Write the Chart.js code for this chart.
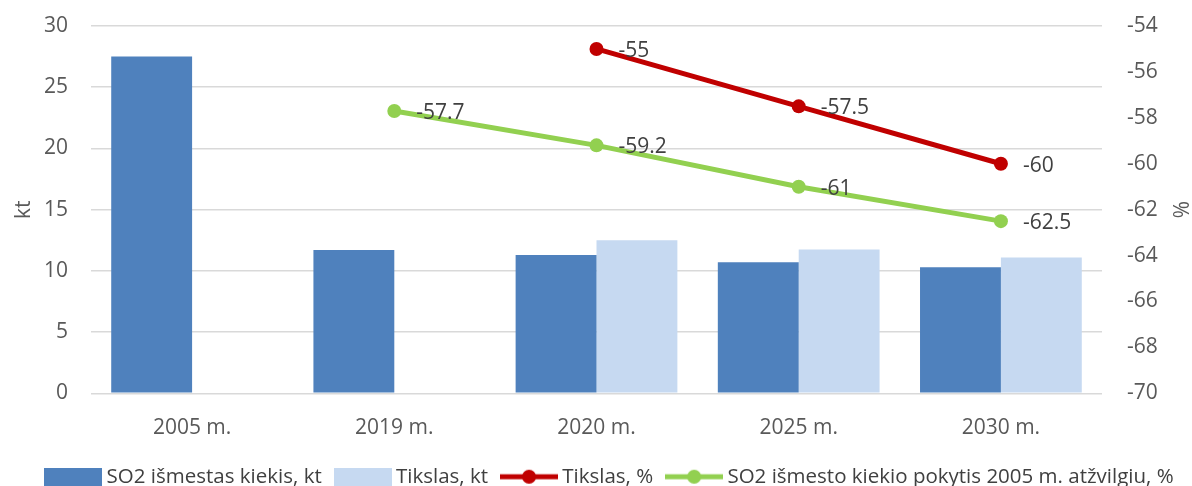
<!DOCTYPE html>
<html>
<head>
<meta charset="utf-8">
<script src="https://cdn.jsdelivr.net/npm/chart.js@4/dist/chart.umd.min.js"></script>
<style>
  html, body { margin: 0; padding: 0; background: #ffffff; }
  #wrap { width: 1192px; height: 486px; position: relative; }
</style>
</head>
<body>
<div id="wrap"><canvas id="c" width="1192" height="486"></canvas></div>
<script>
const categories = ['2005 m.', '2019 m.', '2020 m.', '2025 m.', '2030 m.'];
const emittedKt = [27.5, 11.7, 11.3, 10.7, 10.3];
const targetKt = [null, null, 12.5, 11.75, 11.1];
const targetPct = [null, null, -55, -57.5, -60];
const changePct = [null, -57.7, -59.2, -61, -62.5];
const seriesNames = ['SO2 išmestas kiekis, kt', 'Tikslas, kt', 'Tikslas, %', 'SO2 išmesto kiekio pokytis 2005 m. atžvilgiu, %'];
const leftTicks = { min: 0, max: 30, step: 5 };
const rightTicks = { min: -70, max: -54, step: 2 };

const DARK = '#4F81BD', LIGHT = '#C6D9F1', RED = '#C00000', GREEN = '#92D050';
const FONT = '"Open Sans", "Noto Sans", sans-serif';
const FS = 21;

function boxImg(color) {
  const c = document.createElement('canvas');
  c.width = 58; c.height = 18;
  const g = c.getContext('2d');
  g.fillStyle = color; g.fillRect(0, 0, 58, 18);
  return c;
}
function lineImg(color) {
  const c = document.createElement('canvas');
  c.width = 58; c.height = 18;
  const g = c.getContext('2d');
  g.strokeStyle = color; g.lineWidth = 5;
  g.beginPath(); g.moveTo(0, 9); g.lineTo(58, 9); g.stroke();
  g.fillStyle = color; g.beginPath(); g.arc(29, 9, 7, 0, Math.PI * 2); g.fill();
  return c;
}
const legendImgs = [boxImg(DARK), boxImg(LIGHT), lineImg(RED), lineImg(GREEN)];

const dataLabels = {
  id: 'dataLabels',
  afterDatasetsDraw(chart) {
    const ctx = chart.ctx;
    ctx.save();
    ctx.font = FS + 'px ' + FONT;
    ctx.fillStyle = '#404040';
    ctx.textAlign = 'left';
    ctx.textBaseline = 'middle';
    [2, 3].forEach(di => {
      const meta = chart.getDatasetMeta(di);
      const vals = chart.data.datasets[di].data;
      meta.data.forEach((pt, i) => {
        if (vals[i] === null || vals[i] === undefined) return;
        ctx.fillText(String(vals[i]), pt.x + 22, pt.y + 2);
      });
    });
    ctx.restore();
  }
};

const legendShift = {
  id: 'legendShift',
  afterLayout(chart) {
    const lg = chart.legend;
    if (lg) { lg.left += 16; lg.right += 16; lg.top += 11; lg.bottom += 11; }
  }
};

new Chart(document.getElementById('c'), {
  data: {
    labels: categories,
    datasets: [
      { type: 'bar', label: seriesNames[0], data: emittedKt, backgroundColor: DARK, yAxisID: 'y', order: 2,
        categoryPercentage: 0.8, barPercentage: 1.0 },
      { type: 'bar', label: seriesNames[1], data: targetKt, backgroundColor: LIGHT, yAxisID: 'y', order: 2,
        categoryPercentage: 0.8, barPercentage: 1.0 },
      { type: 'line', label: seriesNames[2], data: targetPct, borderColor: RED, backgroundColor: RED, yAxisID: 'y1',
        borderWidth: 5, pointRadius: 7, pointBackgroundColor: RED, pointBorderWidth: 0, spanGaps: false, order: 1 },
      { type: 'line', label: seriesNames[3], data: changePct, borderColor: GREEN, backgroundColor: GREEN, yAxisID: 'y1',
        borderWidth: 5, pointRadius: 7, pointBackgroundColor: GREEN, pointBorderWidth: 0, spanGaps: false, order: 1 }
    ]
  },
  options: {
    responsive: false,
    animation: false,
    devicePixelRatio: 1,
    layout: { padding: { top: 26, left: 0, right: 0, bottom: 0 } },
    plugins: {
      tooltip: { enabled: false },
      legend: {
        position: 'bottom',
        labels: {
          usePointStyle: true,
          pointStyleWidth: 46,
          padding: 18,
          color: '#404040',
          font: { family: FONT, size: 20.5 },
          generateLabels(chart) {
            return seriesNames.map((name, i) => ({
              text: name,
              pointStyle: legendImgs[i],
              fillStyle: 'rgba(0,0,0,0)',
              strokeStyle: 'rgba(0,0,0,0)',
              lineWidth: 0,
              hidden: false,
              datasetIndex: i,
              fontColor: '#404040'
            }));
          }
        }
      }
    },
    scales: {
      x: {
        grid: { display: false },
        border: { display: false },
        ticks: { color: '#595959', font: { family: FONT, size: FS }, padding: 14 },
        afterFit(s) { s.height -= 17; }
      },
      y: {
        position: 'left',
        min: leftTicks.min, max: leftTicks.max,
        ticks: { stepSize: leftTicks.step, color: '#595959', font: { family: FONT, size: FS }, padding: 23 },
        grid: { color: '#D9D9D9', lineWidth: 1.5, drawTicks: false },
        border: { display: false },
        title: { display: true, text: 'kt', color: '#595959', font: { family: FONT, size: FS }, padding: { top: 11, bottom: 0 } },
        afterFit(s) { s.width = 91; s.paddingTop = 0; s.paddingBottom = 0; }
      },
      y1: {
        position: 'right',
        min: rightTicks.min, max: rightTicks.max,
        ticks: { stepSize: rightTicks.step, color: '#595959', font: { family: FONT, size: FS }, padding: 25 },
        grid: { display: false, drawTicks: false },
        border: { display: false },
        title: { display: true, text: '%', color: '#595959', font: { family: FONT, size: FS }, padding: { top: 0, bottom: 0 } },
        afterFit(s) { s.width = 90; s.paddingTop = 0; s.paddingBottom = 0; }
      }
    }
  },
  plugins: [dataLabels, legendShift]
});
</script>
</body>
</html>
